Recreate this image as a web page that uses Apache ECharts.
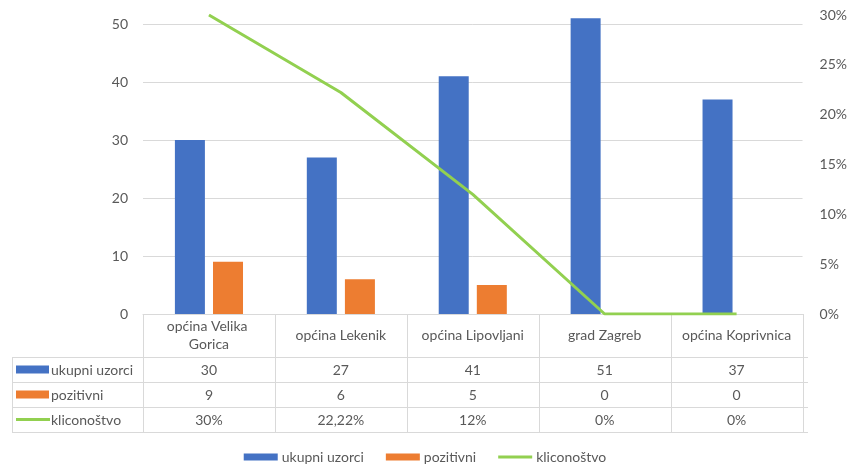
<!DOCTYPE html>
<html><head><meta charset="utf-8">
<script src="https://cdn.jsdelivr.net/npm/echarts@6/dist/echarts.min.js"></script>
<style>html,body{margin:0;padding:0;background:#fff}#c{width:850px;height:465px}</style>
</head><body><div id="c"></div>
<script>
const categories = ['općina Velika Gorica', 'općina Lekenik', 'općina Lipovljani', 'grad Zagreb', 'općina Koprivnica'];
const seriesNames = ['ukupni uzorci', 'pozitivni', 'kliconoštvo'];
const ukupni = [30, 27, 41, 51, 37];
const pozitivni = [9, 6, 5, 0, 0];
const kliconostvo = [30, 22.22, 12, 0, 0];
const kliconostvoLabels = ['30%', '22,22%', '12%', '0%', '0%'];
const colors = ['#4472C4', '#ED7D31', '#92D050'];

const FONT = 'Lato';
const FS = 14;
const TXT = '#595959';
const GRID = '#d9d9d9';
const G = {left: 143, right: 42, top: 15, bottom: 151};

const chart = echarts.init(document.getElementById('c'), null, {renderer: 'canvas'});
chart.setOption({
  animation: false,
  textStyle: {fontFamily: FONT},
  grid: G,
  legend: {
    top: 450, left: 'center', itemWidth: 34, itemHeight: 7, itemGap: 22, padding: 0,
    textStyle: {color: TXT, fontSize: FS, fontFamily: FONT, padding: [0, 0, 0, -1]},
    data: [
      {name: seriesNames[0], icon: 'rect'},
      {name: seriesNames[1], icon: 'rect'},
      {name: seriesNames[2], icon: 'path://M0 0H34V3H0Z'}
    ]
  },
  xAxis: {
    type: 'category', data: categories,
    axisLine: {lineStyle: {color: GRID}}, axisTick: {show: false}, axisLabel: {show: false}
  },
  yAxis: [
    {type: 'value', min: 0, max: 51.55, interval: 10,
     axisLine: {show: false}, axisTick: {show: false},
     axisLabel: {color: TXT, fontSize: FS, margin: 15, showMaxLabel: false,
       formatter: v => (Math.abs(v % 10) < 1e-6 ? String(v) : '')},
     splitLine: {show: true, showMaxLine: false, lineStyle: {color: GRID}}},
    {type: 'value', min: 0, max: 30, interval: 5, position: 'right',
     axisLine: {show: false}, axisTick: {show: false},
     axisLabel: {color: TXT, fontSize: FS, margin: 17, formatter: v => v + '%'},
     splitLine: {show: false}}
  ],
  series: [
    {name: seriesNames[0], type: 'bar', data: ukupni, barWidth: 30, barGap: '27%', itemStyle: {color: colors[0]}},
    {name: seriesNames[1], type: 'bar', data: pozitivni, barWidth: 30, itemStyle: {color: colors[1]}},
    {name: seriesNames[2], type: 'line', yAxisIndex: 1, data: kliconostvo, symbol: 'none', z: 5,
     lineStyle: {width: 3, color: colors[2]}, itemStyle: {color: colors[2]}}
  ]
});

// Data table below the plot, aligned with the category axis
const x0 = chart.convertToPixel({xAxisIndex: 0}, 0);
const x1 = chart.convertToPixel({xAxisIndex: 0}, 1);
const band = x1 - x0;
const plotLeft = G.left, plotRight = 850 - G.right;
const yTop = 465 - G.bottom;
const rowsY = [yTop, 357, 382, 407, 432];
const tableLeft = 12;
const els = [];
function line(xa, ya, xb, yb) {
  els.push({type: 'line', shape: {x1: xa, y1: ya, x2: xb, y2: yb}, style: {stroke: GRID, lineWidth: 1}, silent: true});
}
function text(t, x, y, align, w) {
  const st = {text: t, x: x, y: y, fill: TXT, font: FS + 'px ' + FONT, textAlign: align, textVerticalAlign: 'middle'};
  if (w) { st.width = w; st.overflow = 'break'; st.lineHeight = 18; }
  els.push({type: 'text', style: st, silent: true});
}
for (let r = 1; r < rowsY.length; r++) line(tableLeft, rowsY[r] + 0.5, plotRight, rowsY[r] + 0.5);
for (let i = 0; i <= categories.length; i++) {
  const xv = Math.round(plotLeft + i * band) + 0.5;
  line(xv, yTop, xv, rowsY[4]);
}
line(tableLeft + 0.5, rowsY[1], tableLeft + 0.5, rowsY[4]);
categories.forEach((c, i) => {
  const cx = chart.convertToPixel({xAxisIndex: 0}, i);
  text(c, cx, (rowsY[0] + rowsY[1]) / 2, 'center', band - 12);
});
const rows = [ukupni.map(String), pozitivni.map(String), kliconostvoLabels];
rows.forEach((vals, r) => {
  const cy = (rowsY[r + 1] + rowsY[r + 2]) / 2;
  vals.forEach((v, i) => {
    const cx = chart.convertToPixel({xAxisIndex: 0}, i);
    text(v, cx, cy + 1, 'center');
  });
  if (r < 2) els.push({type: 'rect', shape: {x: 16, y: cy - 4, width: 33, height: 8}, style: {fill: colors[r]}, silent: true});
  else els.push({type: 'rect', shape: {x: 16, y: cy - 1.5, width: 34, height: 3}, style: {fill: colors[r]}, silent: true});
  text(seriesNames[r], 51, cy + 1, 'left');
});
chart.setOption({graphic: {elements: els}});
</script></body></html>
